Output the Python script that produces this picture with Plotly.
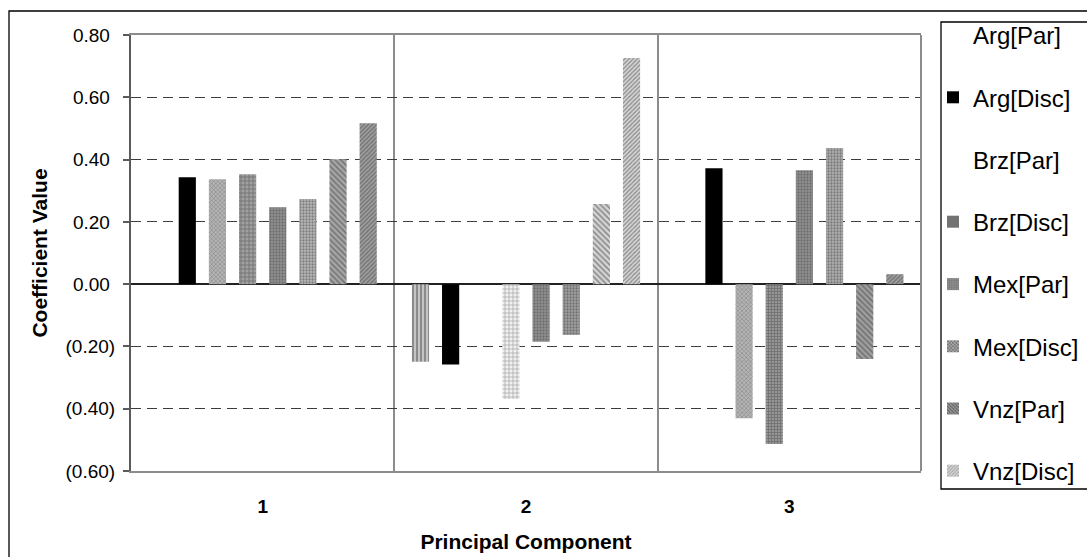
import plotly.graph_objects as go

# Principal component loadings for each country / model
components = ["1", "2", "3"]
series_names = ["Arg[Par]", "Arg[Disc]", "Brz[Par]", "Brz[Disc]",
                "Mex[Par]", "Mex[Disc]", "Vnz[Par]", "Vnz[Disc]"]

arg_par = [None, -0.249, None]
arg_disc = [0.343, -0.258, 0.372]
brz_par = [0.337, None, -0.431]
brz_disc = [0.353, -0.369, -0.513]
mex_par = [0.247, -0.185, 0.366]
mex_disc = [0.273, -0.163, 0.437]
vnz_par = [0.401, 0.257, -0.240]
vnz_disc = [0.517, 0.726, 0.032]

y_ticks = [-0.6, -0.4, -0.2, 0.0, 0.2, 0.4, 0.6, 0.8]


def acct(v):
    # accounting style: negatives in parentheses, positives padded on the right
    if v < -1e-9:
        return "({:.2f})".format(abs(v))
    return "{:.2f}\u00a0".format(abs(v))


# per-point fill styles (monochrome hatching), one entry per component;
# "color" is the background, the pattern is overlaid in "fg"
styles = {
    "Arg[Par]": dict(color=["white", "#c4c4c4", "white"], shape=["", "|", ""],
                     fg=["white", "#1a1a1a", "white"], size=[4, 4, 4], sol=[0.3, 0.45, 0.3]),
    "Arg[Disc]": dict(color=["black"] * 3, shape=[""] * 3, fg=["black"] * 3,
                      size=[4] * 3, sol=[0.3] * 3),
    "Brz[Par]": dict(color=["#b4b4b4", "#b4b4b4", "#b4b4b4"], shape=["x", "", "x"],
                     fg=["#222222"] * 3, size=[3] * 3, sol=[0.3] * 3),
    "Brz[Disc]": dict(color=["#a0a0a0", "#f0f0f0", "#969696"], shape=["+", "+", "+"],
                      fg=["#000000", "#555555", "#000000"], size=[4, 4, 3],
                      sol=[0.4, 0.28, 0.45]),
    "Mex[Par]": dict(color=["#8c8c8c"] * 3, shape=["."] * 3, fg=["#5a5a5a"] * 3,
                     size=[3] * 3, sol=[0.3] * 3),
    "Mex[Disc]": dict(color=["#b8b8b8", "#a0a0a0", "#b0b0b0"], shape=["."] * 3,
                      fg=["#111111"] * 3, size=[3] * 3, sol=[0.45] * 3),
    "Vnz[Par]": dict(color=["#a8a8a8", "#d6d6d6", "#a0a0a0"], shape=["\\"] * 3,
                     fg=["#222222", "#777777", "#222222"], size=[4] * 3, sol=[0.45, 0.45, 0.45]),
    "Vnz[Disc]": dict(color=["#a0a0a0", "#d8d8d8", "#a0a0a0"], shape=["/"] * 3,
                      fg=["#222222", "#7a7a7a", "#222222"], size=[3, 3, 3], sol=[0.45, 0.45, 0.45]),
}

# legend swatches (single style per entry)
legend_styles = {
    "Arg[Par]": dict(color="rgba(0,0,0,0)", shape="", fg="rgba(0,0,0,0)", size=4, sol=0.3),
    "Arg[Disc]": dict(color="black", shape="", fg="black", size=4, sol=0.3),
    "Brz[Par]": dict(color="rgba(0,0,0,0)", shape="", fg="rgba(0,0,0,0)", size=4, sol=0.3),
    "Brz[Disc]": dict(color="#9a9a9a", shape="|", fg="#000000", size=2, sol=0.5),
    "Mex[Par]": dict(color="#8c8c8c", shape=".", fg="#5a5a5a", size=3, sol=0.3),
    "Mex[Disc]": dict(color="#a8a8a8", shape="x", fg="#111111", size=3, sol=0.4),
    "Vnz[Par]": dict(color="#a0a0a0", shape="\\", fg="#1a1a1a", size=3, sol=0.45),
    "Vnz[Disc]": dict(color="#dcdcdc", shape="/", fg="#6a6a6a", size=3, sol=0.45),
}

values = [arg_par, arg_disc, brz_par, brz_disc, mex_par, mex_disc, vnz_par, vnz_disc]

fig = go.Figure()
for name, vals in zip(series_names, values):
    s = styles[name]
    fig.add_trace(go.Bar(
        x=components, y=vals, name=name, showlegend=False,
        marker=dict(color=s["color"], line=dict(width=0),
                    pattern=dict(shape=s["shape"], fgcolor=s["fg"],
                                 size=s["size"], solidity=s["sol"], fillmode="overlay")),
    ))

# legend entries live on a hidden overlay axis so they do not take bar slots;
# two stacked legends keep the tall spacing without scrolling
for i, name in enumerate(series_names):
    s = legend_styles[name]
    fig.add_trace(go.Bar(
        x=[components[0]], y=[0], name=name, legendgroup=name,
        legend="legend" if i < 4 else "legend2",
        xaxis="x2", yaxis="y2", hoverinfo="skip",
        marker=dict(color=s["color"], line=dict(width=0),
                    pattern=dict(shape=s["shape"], fgcolor=s["fg"],
                                 size=s["size"], solidity=s["sol"], fillmode="overlay")),
    ))

W, H = 1087, 557
L, R, T, B = 131, 166, 35, 86
pw, ph = W - L - R, H - T - B


def px_x(p):
    return (p - L) / pw


def px_y(p):
    return (H - B - p) / ph


FONT = "Liberation Sans, Arial, sans-serif"
legend_common = dict(
    x=px_x(933), xanchor="left", yanchor="top",
    font=dict(size=24, family=FONT), bgcolor="rgba(0,0,0,0)", borderwidth=0,
    traceorder="grouped", tracegroupgap=28, itemclick=False, itemdoubleclick=False,
)

fig.update_layout(
    width=W, height=H,
    margin=dict(l=L, r=R, t=T, b=B, autoexpand=False),
    paper_bgcolor="white", plot_bgcolor="white",
    barmode="group", bargap=0.084, bargroupgap=0.43,
    font=dict(family=FONT, color="black"),
    xaxis=dict(
        type="category", categoryorder="array", categoryarray=components,
        tickson="boundaries", ticks="", showgrid=True, gridcolor="#8c8c8c", gridwidth=1.5,
        showline=True, mirror=True, linecolor="#8c8c8c", linewidth=2,
        tickfont=dict(size=19, family=FONT, weight="bold"), ticklabelstandoff=17,
        title=dict(text="<b>Principal Component</b>", font=dict(size=21, family=FONT), standoff=19),
        zeroline=False,
    ),
    yaxis=dict(
        range=[-0.6, 0.8], tickvals=y_ticks, ticktext=[acct(v) for v in y_ticks],
        showgrid=True, gridcolor="#3c3c3c", gridwidth=1.2, griddash="10px,6px",
        zeroline=True, zerolinecolor="#222222", zerolinewidth=1.6,
        showline=True, linecolor="#5a5a5a", linewidth=2,
        ticks="outside", ticklen=6, tickwidth=1.5, tickcolor="#5a5a5a",
        tickfont=dict(size=19, family=FONT), ticklabelstandoff=4,
        title=dict(text="<b>Coefficient Value</b>", font=dict(size=21, family=FONT), standoff=12),
    ),
    xaxis2=dict(overlaying="x", visible=False, type="category"),
    yaxis2=dict(overlaying="y", visible=False, range=[10, 11]),
    legend=dict(y=px_y(13), **legend_common),
    legend2=dict(y=px_y(262), **legend_common),
    shapes=[
        # outer chart frame
        dict(type="rect", xref="paper", yref="paper", x0=px_x(9), x1=1.4,
             y0=-0.5, y1=px_y(11), line=dict(color="black", width=1.3), layer="below"),
        # legend box
        dict(type="rect", xref="paper", yref="paper", x0=px_x(941), x1=1.3,
             y0=px_y(489), y1=px_y(22), line=dict(color="black", width=1.3), layer="below"),
        # right plot border
        dict(type="line", xref="paper", yref="paper", x0=1, x1=1, y0=0, y1=1,
             line=dict(color="#8c8c8c", width=2)),
    ],
)

fig.write_html("out.html")
